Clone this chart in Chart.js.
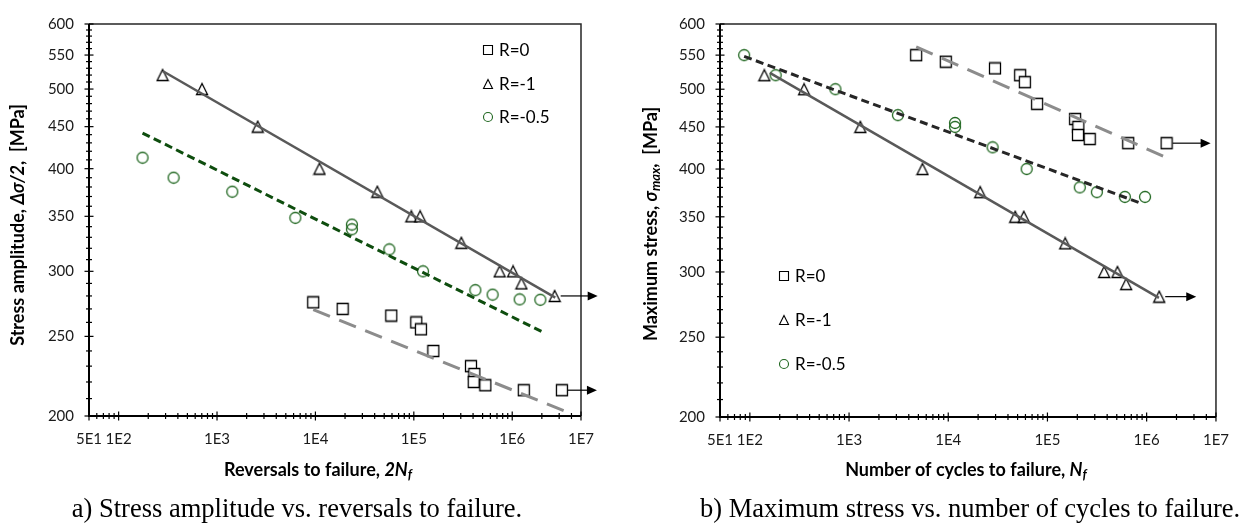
<!DOCTYPE html>
<html>
<head>
<meta charset="utf-8">
<script src="https://cdn.jsdelivr.net/npm/chart.js@4.4.1/dist/chart.umd.min.js"></script>
<style>
  html, body { margin: 0; padding: 0; background: #fff; }
  body { width: 1243px; height: 526px; overflow: hidden; position: relative; }
  canvas { position: absolute; top: 0; }
  #ca { left: 0; }
  #cb { left: 620px; }
  .cap { position: absolute; top: 493px; font-family: "Liberation Serif", "Times New Roman", serif; font-size: 26.5px; line-height: 30px; color: #000; text-align: center; white-space: nowrap; }
</style>
</head>
<body>
<canvas id="ca" width="620" height="526"></canvas>
<canvas id="cb" width="623" height="526"></canvas>
<div class="cap" style="left:0;width:594px;">a) Stress amplitude vs. reversals to failure.</div>
<div class="cap" style="left:700px;width:532px;">b) Maximum stress vs. number of cycles to failure.</div>
<script>
// ---------- axis ticks / labels ----------
const xMin = 50, xMax = 5e6;
const xMajorValues = [50, 100, 1e3, 1e4, 1e5, 1e6, 5e6];
const xMajorLabels = ['5E1', '1E2', '1E3', '1E4', '1E5', '1E6', '1E7'];
const yMin = 200, yMax = 600;
const yLabelValues = [200, 250, 300, 350, 400, 450, 500, 550, 600];
const seriesNames = ['R=0', 'R=-1', 'R=-0.5'];

// ---------- chart a: stress amplitude vs reversals (2Nf, MPa) ----------
const aR0 = [[9500,275],[18900,270],[59000,265],[106000,260],[118000,255],[158000,240],
             [381000,230],[412000,225],[406000,220],[533000,218],[1310000,215],[3200000,215]];
const aRm1 = [[280,520],[704,500],[2590,450],[11000,400],[42600,375],[94400,350],
              [116000,350],[304000,325],[745000,300],[1020000,300],[1240000,290],[2700000,280]];
const aRm05 = [[175,412.5],[362,390],[1430,375],[6250,348.5],[23500,342],[23500,337.5],
               [56400,319],[124000,300],[422000,284.6],[632000,281],[1190000,277.3],[1930000,277]];
const aTrendR0 = [[9500,269.4],[3330000,203]];
const aTrendRm1 = [[280,526],[2740000,278.7]];
const aTrendRm05 = [[175,442],[1980000,253.5]];
// run-outs: [series index, point index, arrow length px]
const aRunouts = [[1, 11, 43], [0, 11, 35]];

// ---------- chart b: maximum stress vs cycles (Nf, MPa) ----------
const bR0 = [[4750,550],[9450,540],[29600,530],[53100,520],[59200,510],[78700,480],
             [190000,460],[205000,450],[203000,440],[267000,435],[652000,430],[1590000,430]];
const bRm1 = [[140,520],[352,500],[1300,450],[5500,400],[21000,375],[47300,350],
              [57700,350],[151000,325],[373000,300],[508000,300],[622000,290],[1340000,280]];
const bRm05 = [[87.6,550],[182,520],[728,500],[3110,465],[11700,455],[11700,450],
               [28000,425],[61700,400],[212000,380],[315000,375],[603000,370],[964000,370]];
const bTrendR0 = [[4750,563],[1610000,412.7]];
const bTrendRm1 = [[159,523.4],[1330000,279]];
const bTrendRm05 = [[87.6,548],[905000,363]];
const bRunouts = [[0, 11, 44], [1, 11, 37]];

// ---------- helpers ----------
const xy = arr => arr.map(p => ({x: p[0], y: p[1]}));

const xTickValues = (() => {
  const v = [];
  for (let d = 10; d <= 1e6; d *= 10)
    for (let k = 1; k <= 9; k++) { const t = k * d; if (t >= xMin && t <= xMax) v.push(t); }
  return v;
})();
const yTickValues = (() => { const v = []; for (let t = yMin; t <= yMax; t += 10) v.push(t); return v; })();

const GREEN = '#1f661f';

function markerCanvas(kind, size) {
  const c = document.createElement('canvas');
  const s = size + 3;
  c.width = s; c.height = s;
  const g = c.getContext('2d');
  g.lineWidth = 1.3;
  const m = s / 2, h = size / 2;
  g.beginPath();
  if (kind === 'rect') {
    g.rect(m - h, m - h, size, size);
    g.fillStyle = '#fff'; g.fill(); g.strokeStyle = '#000'; g.stroke();
  } else if (kind === 'tri') {
    g.moveTo(m, m - h); g.lineTo(m + h, m + h); g.lineTo(m - h, m + h); g.closePath();
    g.fillStyle = '#fff'; g.fill(); g.strokeStyle = '#000'; g.stroke();
  } else {
    g.arc(m, m, h, 0, Math.PI * 2);
    g.strokeStyle = GREEN; g.stroke();
  }
  return c;
}
const imgRect = markerCanvas('rect', 11);
const imgTri = markerCanvas('tri', 11);
const imgCirc = markerCanvas('circ', 11);

function drawRuns(ctx, runs, cx, cy) {
  let total = 0;
  runs.forEach(r => { ctx.font = r.font; r.w = ctx.measureText(r.text).width; total += r.w; });
  let x = cx - total / 2;
  ctx.textBaseline = 'middle';
  ctx.textAlign = 'left';
  ctx.fillStyle = '#000';
  runs.forEach(r => { ctx.font = r.font; ctx.fillText(r.text, x, cy + (r.dy || 0)); x += r.w; });
}

const decor = {
  id: 'decor',
  afterDraw(chart, args, o) {
    const ctx = chart.ctx, ca = chart.chartArea;
    const xs = chart.scales.x, ys = chart.scales.y;
    ctx.save();
    // frame
    ctx.strokeStyle = '#262626'; ctx.lineWidth = 1.5;
    ctx.beginPath();
    ctx.moveTo(ca.left, ca.top); ctx.lineTo(ca.right, ca.top); ctx.lineTo(ca.right, ca.bottom);
    ctx.stroke();
    ctx.strokeStyle = '#000'; ctx.lineWidth = 2;
    ctx.beginPath();
    ctx.moveTo(ca.left, ca.top); ctx.lineTo(ca.left, ca.bottom); ctx.lineTo(ca.right, ca.bottom);
    ctx.stroke();
    // ticks crossing the axes
    ctx.lineWidth = 1.2;
    xTickValues.forEach(v => {
      const px = xs.getPixelForValue(v);
      const major = xMajorValues.includes(v);
      const h = major ? 4.5 : 3;
      ctx.beginPath(); ctx.moveTo(px, ca.bottom - h); ctx.lineTo(px, ca.bottom + h); ctx.stroke();
    });
    yTickValues.forEach(v => {
      const py = ys.getPixelForValue(v);
      const major = yLabelValues.includes(v);
      const h = major ? 4.5 : 3;
      ctx.beginPath(); ctx.moveTo(ca.left - h, py); ctx.lineTo(ca.left + h, py); ctx.stroke();
    });
    // run-out arrows
    ctx.strokeStyle = '#000'; ctx.fillStyle = '#000'; ctx.lineWidth = 1.2;
    o.runouts.forEach(([di, pi, len]) => {
      const p = chart.getDatasetMeta(di).data[pi];
      const x0 = p.x + 6, x1 = p.x + len, y = p.y;
      ctx.beginPath(); ctx.moveTo(x0, y); ctx.lineTo(x1 - 8, y); ctx.stroke();
      ctx.beginPath(); ctx.moveTo(x1, y); ctx.lineTo(x1 - 10, y - 4.5); ctx.lineTo(x1 - 10, y + 4.5); ctx.closePath(); ctx.fill();
    });
    // legend
    const L = o.legend;
    ctx.font = '17px Lato'; ctx.textBaseline = 'middle'; ctx.textAlign = 'left';
    L.rows.forEach((ry, i) => {
      const sx = L.x, s = 4.5;
      ctx.lineWidth = 1.1;
      ctx.beginPath();
      if (i === 0) { ctx.rect(sx - s, ry - s, 2 * s, 2 * s); ctx.strokeStyle = '#000'; }
      else if (i === 1) { ctx.moveTo(sx, ry - s); ctx.lineTo(sx + s, ry + s); ctx.lineTo(sx - s, ry + s); ctx.closePath(); ctx.strokeStyle = '#000'; }
      else { ctx.arc(sx, ry, s, 0, Math.PI * 2); ctx.strokeStyle = GREEN; }
      ctx.stroke();
      ctx.fillStyle = '#000';
      ctx.fillText(seriesNames[i], L.tx, ry + 1);
    });
    // axis titles
    drawRuns(ctx, o.xTitle, o.xTitlePos[0], o.xTitlePos[1]);
    ctx.translate(o.yTitlePos[0], o.yTitlePos[1]);
    ctx.rotate(-Math.PI / 2);
    drawRuns(ctx, o.yTitle, 0, 0);
    ctx.restore();
  }
};

const B = 'bold 18px Lato', BI = 'italic bold 18px Lato', SUB = 'italic bold 13px Lato';

function makeChart(id, d) {
  return new Chart(document.getElementById(id), {
    type: 'scatter',
    data: {
      datasets: [
        {label: 'R=0', data: xy(d.r0), pointStyle: imgRect, pointRadius: 6, order: 2},
        {label: 'R=-1', data: xy(d.rm1), pointStyle: imgTri, pointRadius: 6, order: 2},
        {label: 'R=-0.5', data: xy(d.rm05), pointStyle: imgCirc, pointRadius: 6, order: 2},
        {type: 'line', label: 't0', data: xy(d.t0), borderColor: '#8c8c8c', borderWidth: 3, borderDash: [18, 10], pointRadius: 0, fill: false, order: 0},
        {type: 'line', label: 't1', data: xy(d.tm1), borderColor: '#595959', borderWidth: 2.5, pointRadius: 0, fill: false, order: 0},
        {type: 'line', label: 't05', data: xy(d.tm05), borderColor: d.dashColor, borderWidth: 3, borderDash: [8, 4.5], pointRadius: 0, fill: false, order: 0}
      ]
    },
    options: {
      responsive: false,
      animation: false,
      events: [],
      layout: {padding: {left: 0, right: d.padR, top: d.padT, bottom: 0}},
      plugins: {
        legend: {display: false},
        tooltip: {enabled: false},
        decor: d.decor
      },
      scales: {
        x: {
          type: 'logarithmic', min: xMin, max: xMax,
          afterFit: s => { s.height = d.xH; },
          afterBuildTicks: s => { s.ticks = xTickValues.map(v => ({value: v})); },
          grid: {display: false, drawTicks: false},
          border: {display: false},
          ticks: {
            autoSkip: false, maxRotation: 0, minRotation: 0, padding: 14,
            color: '#1a1a1a', font: {family: 'Lato', size: 15},
            callback: v => { const i = xMajorValues.indexOf(v); return i >= 0 ? xMajorLabels[i] : ''; }
          }
        },
        y: {
          type: 'logarithmic', min: yMin, max: yMax,
          afterFit: s => { s.width = d.yW; },
          afterBuildTicks: s => { s.ticks = yTickValues.map(v => ({value: v})); },
          grid: {display: false, drawTicks: false},
          border: {display: false},
          ticks: {
            autoSkip: false, padding: 15,
            color: '#1a1a1a', font: {family: 'Lato', size: 15},
            callback: v => yLabelValues.includes(v) ? String(v) : ''
          }
        }
      }
    },
    plugins: [decor]
  });
}

makeChart('ca', {
  r0: aR0, rm1: aRm1, rm05: aRm05, t0: aTrendR0, tm1: aTrendRm1, tm05: aTrendRm05,
  dashColor: '#0e4d0e', padR: 39, padT: 18, xH: 110, yW: 89,
  decor: {
    runouts: aRunouts,
    legend: {x: 488, tx: 499, rows: [50, 84, 117]},
    xTitle: [{text: 'Reversals to failure, ', font: B}, {text: '2N', font: BI}, {text: 'f', font: SUB, dy: 5}],
    xTitlePos: [318, 470],
    yTitle: [{text: 'Stress amplitude, ', font: B}, {text: '\u0394\u03C3/2', font: BI}, {text: ',  [MPa]', font: B}],
    yTitlePos: [18, 225]
  }
});

makeChart('cb', {
  r0: bR0, rm1: bRm1, rm05: bRm05, t0: bTrendR0, tm1: bTrendRm1, tm05: bTrendRm05,
  dashColor: '#262626', padR: 26, padT: 15, xH: 109, yW: 100,
  decor: {
    runouts: bRunouts,
    legend: {x: 164, tx: 175, rows: [276, 320, 364]},
    xTitle: [{text: 'Number of cycles to failure, ', font: B}, {text: 'N', font: BI}, {text: 'f', font: SUB, dy: 5}],
    xTitlePos: [346, 470],
    yTitle: [{text: 'Maximum stress, ', font: B}, {text: '\u03C3', font: BI}, {text: 'max', font: SUB, dy: 5}, {text: ',  [MPa]', font: B}],
    yTitlePos: [31, 224]
  }
});
</script>
</body>
</html>
